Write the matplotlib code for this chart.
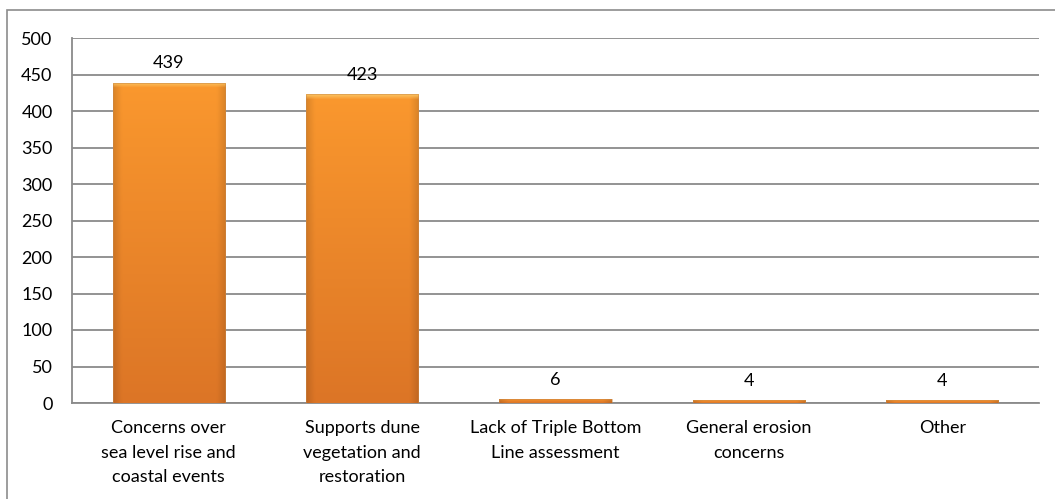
import numpy as np
import matplotlib
matplotlib.use("Agg")
import matplotlib.pyplot as plt
from matplotlib.patches import Rectangle
from matplotlib.colors import to_rgb

plt.rcParams['font.family'] = ['Lato', 'DejaVu Sans']

# ---------- data ----------
categories = [
    "Concerns over\nsea level rise and\ncoastal events",
    "Supports dune\nvegetation and\nrestoration",
    "Lack of Triple Bottom\nLine assessment",
    "General erosion\nconcerns",
    "Other",
]
counts = [439, 423, 6, 4, 4]
yticks = [0, 50, 100, 150, 200, 250, 300, 350, 400, 450, 500]


def bar_gradient(n=200, m=60):
    # vertical orange gradient, lighter at top, darker at bottom and sides
    top = np.array(to_rgb("#FA982E"))
    bot = np.array(to_rgb("#DC7526"))
    t = np.linspace(0, 1, n)[:, None]          # 0 = top, 1 = bottom
    base = top[None, :] * (1 - t) + bot[None, :] * t
    img = np.repeat(base[:, None, :], m, axis=1)
    # darken the side edges a bit
    s = np.linspace(-1, 1, m)
    side = 1 - 0.12 * np.clip((np.abs(s) - 0.85) / 0.15, 0, 1)
    img = img * side[None, :, None]
    # light highlight strip on the top
    hl = np.array(to_rgb("#FBC15E"))
    k = max(2, n // 50)
    w = np.linspace(1, 0, k)[:, None, None]
    img[:k] = img[:k] * (1 - w) + hl[None, None, :] * w
    return np.clip(img, 0, 1)


fig = plt.figure(figsize=(10.55, 4.99), dpi=100)
ax = fig.add_axes([72 / 1055, 1 - 403 / 499, (1039 - 72) / 1055, (403 - 38) / 499])

x = np.arange(len(categories))
width = 0.58
bars = ax.bar(x, counts, width=width, color="#F3902F", edgecolor="none", zorder=3)

grad = bar_gradient()
for b in bars:
    x0, h = b.get_x(), b.get_height()
    im = ax.imshow(grad, extent=[x0, x0 + b.get_width(), 0, h], aspect='auto',
                   zorder=3.5, interpolation='bilinear')
    im.set_clip_path(b)
    # thin brownish outline for the tiny bars
    ax.add_patch(Rectangle((x0, 0), b.get_width(), h, fill=False,
                           edgecolor="#C8884A", lw=0.6, zorder=3.6, alpha=0.6))

for xi, v in zip(x, counts):
    ax.annotate(str(v), (xi, v), xytext=(0, 8), textcoords="offset points",
                ha="center", va="bottom", fontsize=13, color="black")

ax.set_xlim(-0.5, len(categories) - 0.5)
ax.set_ylim(0, 500)
ax.set_yticks(yticks)
ax.set_xticks(x)
ax.set_xticklabels(categories, fontsize=13, linespacing=1.68)
ax.tick_params(axis='both', length=0, labelsize=13)
ax.tick_params(axis='x', pad=12)
ax.tick_params(axis='y', pad=14)

ax.yaxis.grid(True, color="#8A8A8A", lw=1.3, zorder=0)
ax.set_axisbelow(True)
for side in ["top", "right"]:
    ax.spines[side].set_visible(False)
ax.spines["left"].set_color("#8A8A8A")
ax.spines["bottom"].set_color("#8A8A8A")
ax.spines["left"].set_linewidth(1.3)
ax.spines["bottom"].set_linewidth(1.3)

# outer chart frame (right and bottom sides fall outside the image)
fig.patches.append(Rectangle((7 / 1055, -0.05), 1.1, 1 - 10 / 499 + 0.05,
                             transform=fig.transFigure, fill=False,
                             edgecolor="#8C8C8C", lw=1.2))

fig.savefig("out.png", dpi=100)
